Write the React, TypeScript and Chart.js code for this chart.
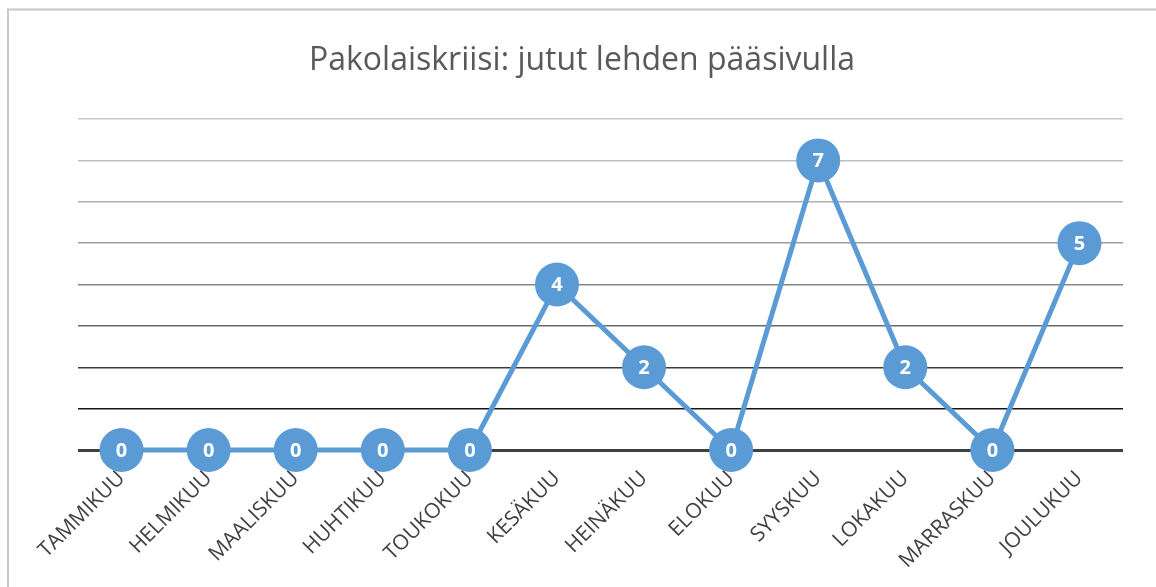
import React, { useEffect, useRef } from "react";
import { Chart, registerables } from "chart.js";

Chart.register(...registerables);

const TITLE = "Pakolaiskriisi: jutut lehden pääsivulla";
const MONTHS = [
  "TAMMIKUU", "HELMIKUU", "MAALISKUU", "HUHTIKUU", "TOUKOKUU", "KESÄKUU",
  "HEINÄKUU", "ELOKUU", "SYYSKUU", "LOKAKUU", "MARRASKUU", "JOULUKUU",
];
const STORIES = [0, 0, 0, 0, 0, 4, 2, 0, 7, 2, 0, 5];
const Y_MAX = 8;

const GRID_COLORS: Record<number, string> = {
  0: "#404040",
  1: "#161616",
  2: "#3c3c3c",
  3: "#6a6a6a",
  4: "#888888",
  5: "#9e9e9e",
  6: "#b0b0b0",
  7: "#bebebe",
  8: "#c9c9c9",
};

const borderPlugin = {
  id: "outerBorder",
  beforeDraw(chart: any) {
    const ctx = chart.ctx;
    ctx.save();
    ctx.strokeStyle = "#c8c8c8";
    ctx.lineWidth = 2;
    ctx.beginPath();
    ctx.moveTo(8, chart.height + 5);
    ctx.lineTo(8, 9.5);
    ctx.lineTo(chart.width + 5, 9.5);
    ctx.stroke();
    ctx.restore();
  },
};

const valueLabelPlugin = {
  id: "valueLabels",
  afterDatasetsDraw(chart: any) {
    const ctx = chart.ctx;
    const meta = chart.getDatasetMeta(0);
    const data = chart.data.datasets[0].data;
    ctx.save();
    ctx.fillStyle = "#ffffff";
    ctx.font = "bold 20px 'Open Sans', sans-serif";
    ctx.textAlign = "center";
    ctx.textBaseline = "middle";
    meta.data.forEach((pt: any, i: number) => {
      ctx.fillText(String(data[i]), pt.x, pt.y + 1);
    });
    ctx.restore();
  },
};

export default function App() {
  const ref = useRef<HTMLCanvasElement | null>(null);
  useEffect(() => {
    if (!ref.current) return;
    const chart = new Chart(ref.current, {
      type: "line",
      data: {
        labels: MONTHS,
        datasets: [
          {
            data: STORIES,
            borderColor: "#5b9bd5",
            backgroundColor: "#5b9bd5",
            borderWidth: 5,
            pointRadius: 22,
            pointHoverRadius: 22,
            pointBackgroundColor: "#5b9bd5",
            pointBorderColor: "#5b9bd5",
            pointBorderWidth: 0,
            tension: 0,
            clip: false as any,
          },
        ],
      },
      options: {
        responsive: false,
        animation: false,
        layout: { padding: { left: 41, right: 33, top: 0, bottom: 0 } },
        plugins: {
          legend: { display: false },
          tooltip: { enabled: false },
          title: {
            display: true,
            text: TITLE,
            color: "#595959",
            font: { family: "'Open Sans', sans-serif", size: 32, weight: "normal" as any },
            padding: { top: 42, bottom: 38.6 },
          },
        },
        scales: {
          x: {
            offset: true,
            grid: { display: false },
            border: { display: false },
            ticks: {
              color: "#404040",
              font: { family: "'Open Sans', sans-serif", size: 21 },
              maxRotation: 45,
              minRotation: 45,
              padding: 8,
              autoSkip: false,
            },
            afterFit: (s: any) => {
              s.height = 137;
            },
          },
          y: {
            min: 0,
            max: Y_MAX,
            ticks: { display: false, stepSize: 1 },
            border: { display: false },
            grid: {
              drawTicks: false,
              color: (c: any) => GRID_COLORS[c.tick?.value] ?? "#c9c9c9",
              lineWidth: (c: any) => (c.tick?.value === 0 ? 3 : 1.5),
            },
            afterFit: (s: any) => {
              s.width = 37;
            },
          },
        },
      },
      plugins: [borderPlugin, valueLabelPlugin],
    });
    return () => chart.destroy();
  }, []);
  return (
    <div style={{ position: "fixed", left: 0, top: 0, width: 1156, height: 587, background: "#fff" }}>
      <canvas ref={ref} width={1156} height={587} style={{ display: "block" }} />
    </div>
  );
}
